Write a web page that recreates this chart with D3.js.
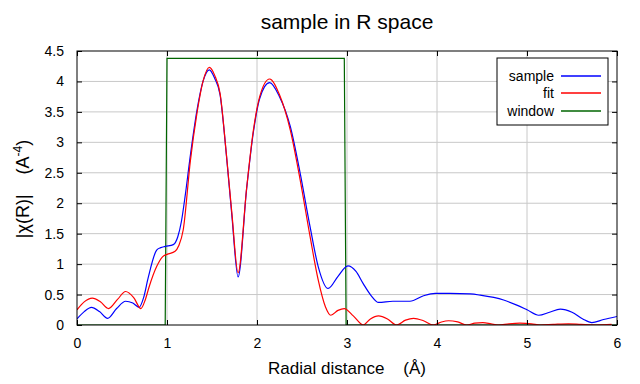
<!DOCTYPE html>
<html>
<head>
<meta charset="utf-8">
<script src="https://cdn.jsdelivr.net/npm/d3@7"></script>
<style>
  body { margin: 0; background: #fff; }
  svg { display: block; font-family: "Liberation Sans", Arial, sans-serif; }
</style>
</head>
<body>
<svg id="chart" width="640" height="384"></svg>
<script>
// data
var sampleX = [0.00, 0.08, 0.16, 0.25, 0.34, 0.44, 0.54, 0.62, 0.69, 0.74, 0.79, 0.885, 0.93, 0.98, 1.07, 1.12, 1.16, 1.20, 1.26, 1.33, 1.40, 1.47, 1.53, 1.59, 1.66, 1.72, 1.79, 1.885, 1.96, 2.03, 2.14, 2.25, 2.37, 2.48, 2.59, 2.68, 2.79, 2.90, 3.01, 3.10, 3.18, 3.27, 3.35, 3.51, 3.70, 3.85, 3.98, 4.14, 4.37, 4.48, 4.74, 4.88, 5.00, 5.13, 5.25, 5.37, 5.50, 5.62, 5.72, 5.85, 6.00];
var sampleY = [0.10, 0.22, 0.29, 0.22, 0.11, 0.27, 0.39, 0.36, 0.29, 0.45, 0.77, 1.23, 1.27, 1.29, 1.32, 1.45, 1.70, 2.10, 2.79, 3.50, 4.00, 4.19, 4.05, 3.78, 2.79, 1.81, 0.79, 2.24, 3.17, 3.72, 3.98, 3.75, 3.26, 2.49, 1.61, 0.96, 0.60, 0.80, 0.97, 0.88, 0.68, 0.48, 0.37, 0.39, 0.39, 0.48, 0.52, 0.52, 0.51, 0.49, 0.41, 0.33, 0.25, 0.16, 0.21, 0.26, 0.21, 0.10, 0.04, 0.09, 0.14];

var fitX = [0.00, 0.08, 0.17, 0.26, 0.35, 0.45, 0.54, 0.63, 0.71, 0.76, 0.80, 0.885, 0.95, 1.00, 1.09, 1.13, 1.18, 1.26, 1.33, 1.40, 1.47, 1.53, 1.59, 1.66, 1.72, 1.79, 1.885, 1.96, 2.03, 2.14, 2.25, 2.37, 2.48, 2.59, 2.68, 2.76, 2.82, 2.90, 2.97, 3.07, 3.18, 3.26, 3.35, 3.45, 3.55, 3.65, 3.74, 3.85, 3.96, 4.05, 4.13, 4.23, 4.33, 4.42, 4.51, 4.60, 4.68, 4.80, 4.92, 5.05, 5.15, 5.29, 5.46, 5.60, 5.77, 5.94];
var fitY = [0.25, 0.38, 0.44, 0.38, 0.27, 0.42, 0.55, 0.45, 0.27, 0.42, 0.62, 0.96, 1.12, 1.16, 1.21, 1.30, 1.56, 2.70, 3.45, 4.00, 4.23, 4.10, 3.80, 2.80, 1.85, 0.86, 2.25, 3.20, 3.75, 4.04, 3.78, 3.20, 2.38, 1.45, 0.74, 0.30, 0.16, 0.24, 0.27, 0.15, 0.00, 0.10, 0.15, 0.10, 0.00, 0.08, 0.11, 0.07, 0.00, 0.05, 0.07, 0.05, 0.00, 0.03, 0.04, 0.02, 0.00, 0.02, 0.03, 0.02, 0.00, 0.01, 0.02, 0.01, 0.00, 0.01];

var windowX = [0.00, 0.98, 1.00, 2.97, 2.99, 6.00];
var windowY = [0.00, 0.00, 4.38, 4.38, 0.00, 0.00];

var xTicks = [0, 1, 2, 3, 4, 5, 6];
var yTicks = [0, 0.5, 1, 1.5, 2, 2.5, 3, 3.5, 4, 4.5];

var seriesNames = ["sample", "fit", "window"];
var seriesColors = { sample: "#0000ff", fit: "#ff0000", window: "#006400" };

// SETUP
var svg = d3.select("#chart"),
    margin = { top: 51, right: 23, bottom: 59, left: 77 },
    width = 640 - margin.left - margin.right,
    height = 384 - margin.top - margin.bottom;

var x = d3.scaleLinear().domain([0, 6]).range([0, width]);
var y = d3.scaleLinear().domain([0, 4.5]).range([height, 0]);

var g = svg.append("g").attr("transform", "translate(" + margin.left + "," + margin.top + ")");

// grid
g.append("g").selectAll("line").data(xTicks.slice(1, -1)).enter().append("line")
    .attr("x1", d => x(d)).attr("x2", d => x(d))
    .attr("y1", 0).attr("y2", height)
    .attr("stroke", "#c8c8c8");
g.append("g").selectAll("line").data(yTicks.slice(1, -1)).enter().append("line")
    .attr("x1", 0).attr("x2", width)
    .attr("y1", d => y(d)).attr("y2", d => y(d))
    .attr("stroke", "#c8c8c8");

// lines
var line = d3.line()
    .x(d => x(d[0]))
    .y(d => y(d[1]))
    .curve(d3.curveMonotoneX);

function zip(a, b) { return a.map((v, i) => [v, b[i]]); }

svg.append("defs").append("clipPath").attr("id", "clip")
    .append("rect").attr("width", width).attr("height", height);

var plot = g.append("g").attr("clip-path", "url(#clip)");

plot.append("path").datum(zip(windowX, windowY))
    .attr("fill", "none").attr("stroke", seriesColors.window).attr("stroke-width", 1.2)
    .attr("d", d3.line().x(d => x(d[0])).y(d => y(d[1])));
plot.append("path").datum(zip(sampleX, sampleY))
    .attr("fill", "none").attr("stroke", seriesColors.sample).attr("stroke-width", 1.2)
    .attr("d", line);
plot.append("path").datum(zip(fitX, fitY))
    .attr("fill", "none").attr("stroke", seriesColors.fit).attr("stroke-width", 1.2)
    .attr("d", line);

// axes (ticks pointing inward)
var axisStyle = function (sel) {
    sel.select(".domain").remove();
    sel.selectAll(".tick line").attr("stroke", "#000");
    sel.selectAll("text").attr("font-size", "14px").attr("fill", "#000")
        .attr("font-family", "'Liberation Sans', Arial, sans-serif");
};

g.append("g").attr("transform", "translate(0," + height + ")")
    .call(d3.axisBottom(x).tickValues(xTicks).tickSize(-5).tickPadding(13).tickFormat(d3.format("d")))
    .call(axisStyle);
g.append("g")
    .call(d3.axisLeft(y).tickValues(yTicks).tickSize(-5).tickPadding(13).tickFormat(d => d))
    .call(axisStyle);
g.append("g")
    .call(d3.axisTop(x).tickValues(xTicks).tickSize(-5).tickFormat(""))
    .call(axisStyle);
g.append("g").attr("transform", "translate(" + width + ",0)")
    .call(d3.axisRight(y).tickValues(yTicks).tickSize(-5).tickFormat(""))
    .call(axisStyle);

// frame
g.append("rect").attr("width", width).attr("height", height)
    .attr("fill", "none").attr("stroke", "#000").attr("stroke-width", 1);

// title and axis labels
svg.append("text").attr("x", margin.left + width / 2).attr("y", 29)
    .attr("text-anchor", "middle").attr("font-size", "21px").text("sample in R space");

svg.append("text").attr("x", margin.left + width / 2).attr("y", 374)
    .attr("text-anchor", "middle").attr("font-size", "17px")
    .attr("xml:space", "preserve").text("Radial distance    (\u00C5)");

var ylab = svg.append("text")
    .attr("transform", "translate(29," + 189 + ") rotate(-90)")
    .attr("text-anchor", "middle").attr("font-size", "18px")
    .attr("xml:space", "preserve");
ylab.append("tspan").text("|\u03C7(R)|    (A");
ylab.append("tspan").attr("font-size", "12px").attr("dy", -7).text("-4");
ylab.append("tspan").attr("dy", 7).text(")");

// legend
var legend = svg.append("g").attr("transform", "translate(497,58)");
legend.append("rect").attr("width", 111).attr("height", 67)
    .attr("fill", "#fff").attr("stroke", "#000");
var rows = legend.selectAll(".row").data(seriesNames).enter().append("g")
    .attr("class", "row")
    .attr("transform", (d, i) => "translate(0," + [18, 35, 53][i] + ")");
rows.append("text").attr("x", 57).attr("dy", "0.35em")
    .attr("text-anchor", "end").attr("font-size", "14px").text(d => d);
rows.append("line").attr("x1", 64).attr("x2", 104).attr("y1", 0).attr("y2", 0)
    .attr("stroke", d => seriesColors[d]).attr("stroke-width", 1.5);
</script>
</body>
</html>
